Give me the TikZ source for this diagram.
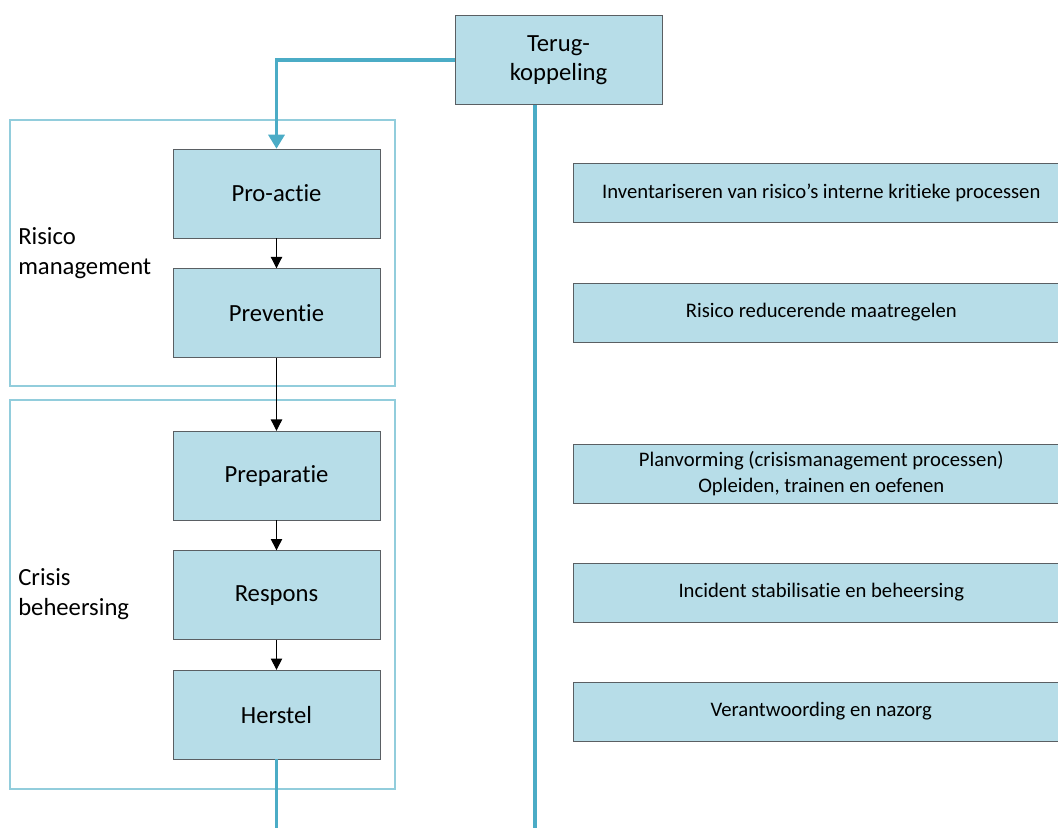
\documentclass[tikz,border=0pt]{standalone}
\usepackage{fontspec}
\setmainfont{Carlito}[Ligatures={NoCommon}]
\usepackage{tikz}
\usetikzlibrary{arrows.meta,positioning}

\definecolor{boxfill}{HTML}{B7DDE8}
\definecolor{boxline}{HTML}{5A5F63}
\definecolor{feedline}{HTML}{4BACC6}
\definecolor{frameline}{HTML}{92CDDC}

\begin{document}
\begin{tikzpicture}[
    x=0.75pt, y=-0.75pt,
    node distance=22.5pt,
    phase/.style={rectangle, draw=boxline, fill=boxfill, minimum width=155.25pt, minimum height=66.75pt, inner sep=0pt, font=\fontsize{18.5}{22}\selectfont},
    task/.style={rectangle, draw=boxline, fill=boxfill, minimum width=372pt, minimum height=44.25pt, inner sep=0pt, align=center, font=\fontsize{15.5}{19}\selectfont},
    frame/.style={draw=frameline, line width=0.8pt},
    sidelabel/.style={anchor=west, align=left, inner sep=0pt, font=\fontsize{18.5}{22.5}\selectfont},
    arrow/.style={->, >={Triangle[width=8.5pt,length=8.5pt]}, line width=0.8pt},
    feedback/.style={draw=feedline, line width=2.4pt}
]
\useasboundingbox (0,0) rectangle (1058,828);
\clip (0,0) rectangle (1058,828);

% Frames
\draw[frame] (10,120) rectangle (395,386);
\draw[frame] (10,400) rectangle (395,789);
\node[sidelabel] (risklabel) at (18,253) {Risico\\management};
\node[sidelabel] (crisislabel) at (18,594) {Crisis\\beheersing};

% Phases (left column)
\node[phase] (proactie) at (276.5,193.5) {Pro-actie};
\node[phase, below=of proactie] (preventie) {Preventie};
\node[phase, below=54.75pt of preventie] (preparatie) {Preparatie};
\node[phase, below=of preparatie] (respons) {Respons};
\node[phase, below=of respons] (herstel) {Herstel};

% Feedback
\node[phase, align=center] (terug) at (558.5,60) {Terug-\\koppeling};

% Tasks (right column, cut off at the right edge)
\node[task, anchor=west] (inventaris) at (573,192.5) {Inventariseren van risico’s interne kritieke processen};
\node[task, anchor=west] (reduceren) at (573,312.5) {Risico reducerende maatregelen};
\node[task, anchor=west] (planvorming) at (573,473.5) {Planvorming (crisismanagement processen)\\Opleiden, trainen en oefenen};
\node[task, anchor=west] (stabilisatie) at (573,592.5) {Incident stabilisatie en beheersing};
\node[task, anchor=west] (nazorg) at (573,711.5) {Verantwoording en nazorg};

% Arrows
\draw[arrow] (proactie) -- (preventie);
\draw[arrow] (preventie) -- (preparatie);
\draw[arrow] (preparatie) -- (respons);
\draw[arrow] (respons) -- (herstel);

% Feedback lines
\coordinate (herstelend) at (herstel.south |- 0,830);
\coordinate (terugend) at (535,830);
\draw[feedback] (herstel.south) -- (herstelend);
\draw[feedback] (terug.south -| terugend) -- (terugend);
\draw[feedback, -{Triangle[width=12pt,length=10.5pt]}] (terug.west) -| (proactie.north);

\end{tikzpicture}
\end{document}
